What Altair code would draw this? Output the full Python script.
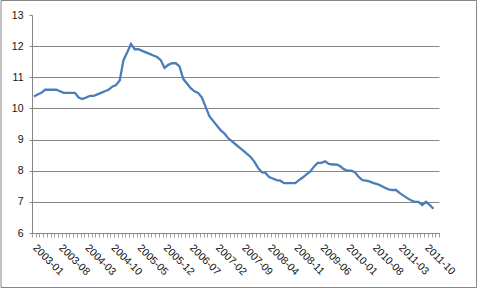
import altair as alt
import pandas as pd

# monthly values, 2003-01 .. 2011-12
values = [
    10.38, 10.45, 10.5, 10.6, 10.6, 10.6, 10.6, 10.55, 10.5, 10.5,
    10.5, 10.5, 10.35, 10.3, 10.35, 10.4, 10.4, 10.45, 10.5, 10.55,
    10.6, 10.7, 10.75, 10.9, 11.55, 11.8, 12.07, 11.9, 11.9, 11.85,
    11.8, 11.75, 11.7, 11.65, 11.55, 11.3, 11.4, 11.45, 11.45, 11.35,
    10.95, 10.8, 10.65, 10.55, 10.5, 10.35, 10.05, 9.75, 9.6, 9.45,
    9.3, 9.2, 9.05, 8.95, 8.85, 8.75, 8.65, 8.55, 8.45, 8.3,
    8.1, 7.95, 7.93, 7.8, 7.75, 7.7, 7.68, 7.6, 7.6, 7.6,
    7.6, 7.7, 7.78, 7.88, 7.97, 8.13, 8.25, 8.25, 8.3, 8.22,
    8.2, 8.2, 8.15, 8.05, 8.0, 8.0, 7.95, 7.8, 7.7, 7.68,
    7.65, 7.6, 7.57, 7.52, 7.45, 7.4, 7.38, 7.38, 7.28, 7.2,
    7.12, 7.05, 7.0, 7.0, 6.9, 7.0, 6.9, 6.78,
]
tick_labels = ["2003-01", "2003-08", "2004-03", "2004-10", "2005-05", "2005-12",
               "2006-07", "2007-02", "2007-09", "2008-04", "2008-11", "2009-06",
               "2010-01", "2010-08", "2011-03", "2011-10"]
y_ticks = [6, 7, 8, 9, 10, 11, 12, 13]

df = pd.DataFrame({"idx": list(range(len(values))), "v": values})

label_arr = "[" + ",".join("'" + s + "'" for s in tick_labels) + "]"
label_expr = ("(round(datum.value + 0.5) % 7 == 0) ? " + label_arr +
              "[round(datum.value + 0.5) / 7] || '' : ''")

FONT = "Liberation Sans"
GRAY = "#868686"

line = alt.Chart(df).mark_line(color="#4a7ebb", strokeWidth=2.3).encode(
    x=alt.X("idx:Q", scale=alt.Scale(domain=[-0.5, 108.5], nice=False, zero=False),
            axis=alt.Axis(values=[k - 0.5 for k in range(110)], labelExpr=label_expr,
                          labelAngle=45, labelAlign="left", labelBaseline="middle",
                          labelPadding=9, labelOffset=2, labelOverlap=False, labelFont=FONT,
                          labelFontSize=10.5, labelColor="#111", tickColor=GRAY,
                          tickSize=4, tickOpacity=0.8, domainColor=GRAY, grid=False,
                          title=None, labelBound=False, labelFlush=False)),
    y=alt.Y("v:Q", scale=alt.Scale(domain=[6, 13], nice=False, zero=False),
            axis=alt.Axis(values=y_ticks, grid=True, gridColor=GRAY,
                          gridOpacity={"condition": {"test": "datum.value >= 13", "value": 0}, "value": 1},
                          domainColor=GRAY, tickColor=GRAY, tickSize=3, labelPadding=6,
                          labelFont=FONT, labelFontSize=10.5, labelColor="#111",
                          title=None)),
)

frame = alt.Chart(alt.Data(values=[{"a": 1}])).mark_rect(
    fill=None, stroke=GRAY, strokeWidth=1, clip=False
).encode(
    x=alt.value(-31), x2=alt.value(444.5), y=alt.value(-14.5), y2=alt.value(272.5)
)

chart = alt.layer(frame, line).properties(
    width=407, height=218,
    autosize=alt.AutoSizeParams(type="none"),
    padding={"left": 32, "top": 15, "right": 42, "bottom": 56},
    background="white",
).configure_view(stroke=None)

chart.save("out.html", embed_options={"renderer": "svg", "actions": False})
